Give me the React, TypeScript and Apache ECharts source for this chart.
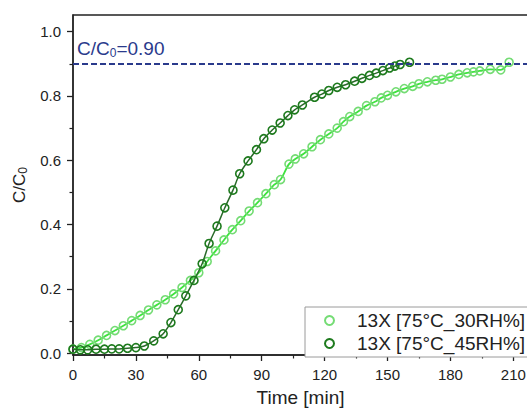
import React, { useEffect, useRef } from "react";
import * as echarts from "echarts";

const seriesNames = ["13X [75°C_30RH%]", "13X [75°C_45RH%]"];

const time30 = [0, 4, 8, 12, 16, 20, 24, 28, 32, 36, 40, 44, 48, 52, 56, 60, 64, 68, 72, 76, 80, 84, 88, 92, 96, 99, 103, 106, 110, 114, 118, 122, 126, 129, 132, 136, 140, 144, 147, 150, 154, 158, 162, 165, 169, 173, 176, 180, 184, 188, 191, 194, 199, 204, 208];
const c30 = [0.012, 0.017, 0.027, 0.04, 0.055, 0.07, 0.085, 0.101, 0.117, 0.134, 0.15, 0.166, 0.184, 0.204, 0.226, 0.25, 0.285, 0.318, 0.352, 0.384, 0.412, 0.442, 0.468, 0.496, 0.524, 0.54, 0.588, 0.604, 0.62, 0.642, 0.664, 0.682, 0.7, 0.72, 0.736, 0.752, 0.77, 0.782, 0.794, 0.802, 0.813, 0.823, 0.83, 0.838, 0.844, 0.849, 0.852, 0.859, 0.867, 0.872, 0.875, 0.878, 0.883, 0.881, 0.905];

const time45 = [0, 3.5, 7, 11, 15, 18.5, 22, 26, 30, 34, 38.5, 43, 46.7, 50.2, 53.8, 57.7, 61.6, 64.9, 68.7, 72.4, 76.3, 79.5, 83.5, 87.5, 91, 95, 98.8, 102.5, 105.7, 109.4, 115.2, 118.7, 122, 126, 130, 134.3, 137.8, 141.4, 144.6, 147.8, 151, 153.5, 156, 160.5];
const c45 = [0.012, 0.01, 0.01, 0.012, 0.012, 0.013, 0.013, 0.015, 0.017, 0.022, 0.038, 0.06, 0.095, 0.135, 0.178, 0.226, 0.278, 0.341, 0.395, 0.452, 0.507, 0.558, 0.598, 0.633, 0.667, 0.694, 0.716, 0.739, 0.757, 0.772, 0.796, 0.806, 0.817, 0.827, 0.835, 0.846, 0.855, 0.864, 0.871, 0.879, 0.887, 0.893, 0.898, 0.905];

const xMajorTicks = [0, 30, 60, 90, 120, 150, 180, 210];
const xMinorTicks = [15, 45, 75, 105, 135, 165, 195];
const yMajorTicks = [0, 0.2, 0.4, 0.6, 0.8, 1.0];
const yMinorTicks = [0.1, 0.3, 0.5, 0.7, 0.9];
const threshold = 0.9;

const X_MIN = 0;
const X_MAX = 217;
const Y_MIN = -0.006;
const Y_MAX = 1.052;

const FONT = "Liberation Sans";
const AXIS_COLOR = "#222";
const LIGHT_MARK = "#74dc74";
const LIGHT_LINE = "#3ee23e";
const DARK_MARK = "#1d7a1d";
const DARK_LINE = "#2a6a2a";
const BLUE = "#2a3a8c";

const zip = (xs: number[], ys: number[]) => xs.map((x, i) => [x, ys[i]]);

export default function App() {
  const ref = useRef<HTMLDivElement>(null);
  useEffect(() => {
    document.body.style.margin = "0";
    if (!ref.current) return;
    const chart = echarts.init(ref.current, null, { renderer: "svg" });
    const baseAxisLine = { show: true, onZero: false, lineStyle: { color: AXIS_COLOR, width: 1.5 } };
    const option: any = {
      animation: false,
      backgroundColor: "#fff",
      textStyle: { fontFamily: FONT },
      grid: {
        left: 73,
        top: 15,
        right: -1,
        bottom: 53,
        show: true,
        borderColor: AXIS_COLOR,
        borderWidth: 1.3,
        outerBoundsMode: "none",
        containLabel: false,
      },
      legend: {
        orient: "vertical",
        left: 305,
        top: 307,
        padding: [4, 60, 4, 19],
        itemGap: 4,
        itemWidth: 9,
        itemHeight: 9,
        borderColor: "#9a9a9a",
        borderWidth: 1,
        backgroundColor: "#fff",
        textStyle: { fontSize: 19, color: "#222", fontFamily: FONT, padding: [0, 0, 0, 18], lineHeight: 18 },
        data: [
          { name: seriesNames[0], icon: "circle", itemStyle: { color: "rgba(0,0,0,0)", borderColor: LIGHT_MARK, borderWidth: 2 } },
          { name: seriesNames[1], icon: "circle", itemStyle: { color: "rgba(0,0,0,0)", borderColor: DARK_MARK, borderWidth: 2 } },
        ],
      },
      xAxis: [
        {
          type: "value",
          position: "bottom",
          min: X_MIN,
          max: X_MAX,
          axisLine: baseAxisLine,
          axisTick: { show: true, length: 6, customValues: xMajorTicks, lineStyle: { color: AXIS_COLOR, width: 1.3 } },
          axisLabel: { customValues: xMajorTicks, fontSize: 15, color: "#222", margin: 12, fontFamily: FONT },
          splitLine: { show: false },
          name: "Time [min]",
          nameLocation: "middle",
          nameGap: 33,
          nameTextStyle: { fontSize: 19, color: "#222", fontFamily: FONT },
        },
        {
          type: "value",
          position: "bottom",
          min: X_MIN,
          max: X_MAX,
          axisLine: { show: false, onZero: false },
          axisTick: { show: true, length: 3.5, customValues: xMinorTicks, lineStyle: { color: AXIS_COLOR, width: 1.2 } },
          axisLabel: { show: false },
          splitLine: { show: false },
        },
      ],
      yAxis: [
        {
          type: "value",
          position: "left",
          min: Y_MIN,
          max: Y_MAX,
          axisLine: baseAxisLine,
          axisTick: { show: true, length: 6, customValues: yMajorTicks, lineStyle: { color: AXIS_COLOR, width: 1.3 } },
          axisLabel: {
            customValues: yMajorTicks,
            fontSize: 15,
            color: "#222",
            margin: 12,
            fontFamily: FONT,
            formatter: (v: number) => v.toFixed(1),
          },
          splitLine: { show: false },
          name: "{a|C/C}{b|0}",
          nameLocation: "middle",
          nameGap: 38,
          nameRotate: 90,
          nameTextStyle: {
            color: "#222",
            fontFamily: FONT,
            rich: {
              a: { fontSize: 17, color: "#222", fontFamily: FONT },
              b: { fontSize: 12, color: "#222", fontFamily: FONT, padding: [8, 0, 0, 0] },
            },
          },
        },
        {
          type: "value",
          position: "left",
          min: Y_MIN,
          max: Y_MAX,
          axisLine: { show: false, onZero: false },
          axisTick: { show: true, length: 3.5, customValues: yMinorTicks, lineStyle: { color: AXIS_COLOR, width: 1.2 } },
          axisLabel: { show: false },
          splitLine: { show: false },
        },
      ],
      graphic: [
        {
          type: "text",
          x: 77,
          y: 48,
          style: {
            text: "{a|C/C}{b|0}{a|=0.90}",
            verticalAlign: "middle",
            align: "left",
            rich: {
              a: { fontSize: 19, fill: BLUE, fontFamily: FONT },
              b: { fontSize: 12, fill: BLUE, fontFamily: FONT, padding: [9, 0, 0, 0] },
            },
          },
        },
      ],
      series: [
        {
          name: seriesNames[0],
          type: "line",
          data: zip(time30, c30),
          smooth: 0.3,
          symbol: "circle",
          symbolSize: 8,
          showSymbol: true,
          lineStyle: { color: LIGHT_LINE, width: 1.8 },
          itemStyle: { color: "rgba(0,0,0,0)", borderColor: LIGHT_MARK, borderWidth: 1.6 },
          z: 2,
          markLine: {
            silent: true,
            symbol: "none",
            label: { show: false },
            lineStyle: { color: BLUE, type: [6, 3], width: 1.8 },
            data: [{ yAxis: threshold }],
          },
        },
        {
          name: seriesNames[1],
          type: "line",
          data: zip(time45, c45),
          smooth: 0.3,
          symbol: "circle",
          symbolSize: 8,
          showSymbol: true,
          lineStyle: { color: DARK_LINE, width: 1.5 },
          itemStyle: { color: "rgba(0,0,0,0)", borderColor: DARK_MARK, borderWidth: 1.6 },
          z: 3,
        },
      ],
    };
    chart.setOption(option);
    return () => chart.dispose();
  }, []);
  return <div ref={ref} style={{ width: 527, height: 408 }} />;
}
